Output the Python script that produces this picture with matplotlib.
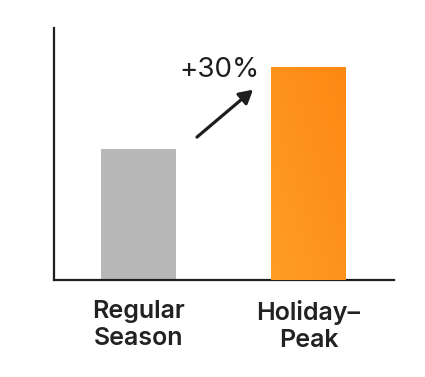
import matplotlib.pyplot as plt
import numpy as np

categories = ['Regular\nSeason', 'Holiday–\nPeak']
values = [52, 84.5]
colors = ['#b8b8b8', '#fd8f1c']
change_label = '+30%'

plt.rcParams['font.family'] = ['Inter', 'DejaVu Sans']

fig = plt.figure(figsize=(4.25, 3.77), dpi=100)
ax = fig.add_axes([0.127, 0.257, 0.8, 0.669])

x = np.arange(len(categories))
bars = ax.bar(x, values, width=0.44, color=colors, zorder=2)

# subtle light-to-dark orange gradient on the peak bar
peak = bars[1]
gx, gy = np.meshgrid(np.linspace(0, 1, 60), np.linspace(0, 1, 60))
grad = (gx + gy) / 2
x0, w = peak.get_x(), peak.get_width()
cmap = plt.matplotlib.colors.LinearSegmentedColormap.from_list(
    'org', ['#ff9d24', '#fd8814'])
im = ax.imshow(grad, extent=[x0, x0 + w, 0, values[1]], aspect='auto',
               cmap=cmap, origin='lower', zorder=3)
im.set_clip_path(peak)

ax.set_xlim(-0.497, 1.503)
ax.set_ylim(0, 100)

ax.annotate('', xy=(0.674, 75.5), xytext=(0.344, 56.7),
            arrowprops=dict(arrowstyle='-|>,head_length=0.8,head_width=0.45',
                            color='#1e1e1e', lw=2.3, shrinkA=0, shrinkB=0))
ax.text(0.479, 83.5, change_label, fontsize=20, ha='center', va='center',
        color='#1e1e1e')

for s in ['top', 'right']:
    ax.spines[s].set_visible(False)
for s in ['left', 'bottom']:
    ax.spines[s].set_linewidth(1.6)
    ax.spines[s].set_color('#1e1e1e')

ax.set_yticks([])
ax.set_xticks(x)
ax.set_xticklabels(categories, fontsize=18, fontweight='semibold',
                   color='#222222', linespacing=1.25)
ax.tick_params(axis='x', length=0, pad=14)

fig.savefig('out.png', dpi=100)
